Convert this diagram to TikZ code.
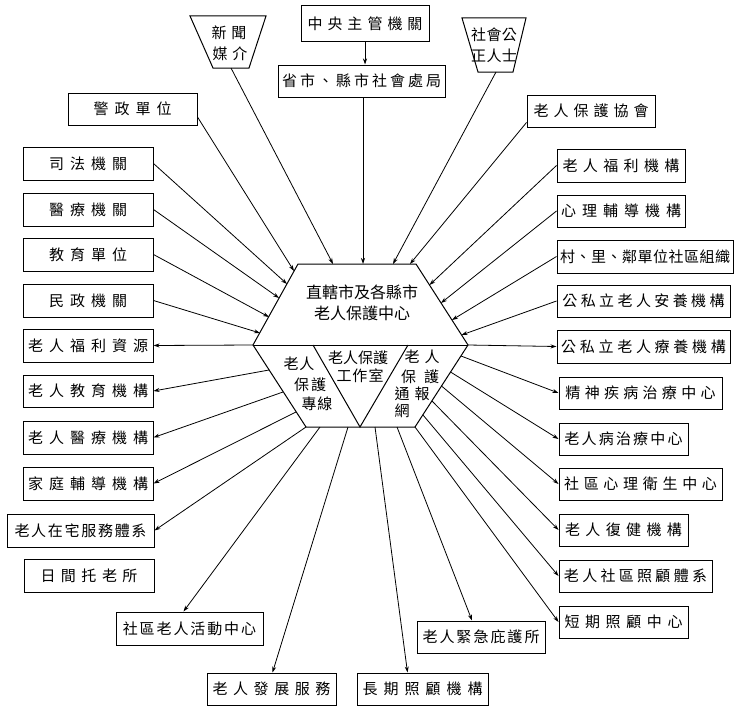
\documentclass[tikz,border=0pt]{standalone}
\usepackage{fontspec}
\setmainfont{Noto Sans CJK TC}
\usetikzlibrary{arrows.meta,calc}
\makeatletter
\newcommand\spaced[2]{\begingroup\def\sp@sep{}\@tfor\sp@c:=#2\do{\sp@sep\sp@c\def\sp@sep{\hspace{#1}}}\endgroup}
\makeatother
\begin{document}
\begin{tikzpicture}[x=1pt,y=-1pt,
  box/.style={draw, line width=1pt, inner sep=0pt, minimum height=33pt, font=\fontsize{15pt}{18pt}\selectfont},
  conn/.style={line width=0.8pt},
  arr/.style={conn,-{Stealth[length=6pt,width=4pt]}},
  lbl/.style={inner sep=0pt, font=\fontsize{15pt}{18pt}\selectfont}]
\useasboundingbox (0,0) rectangle (735,709);

% ---------- top ----------
\node[box, minimum width=128pt, minimum height=36pt] (zy) at (365,24) {\spaced{5pt}{中央主管機關}};
\node[box, minimum width=167pt, minimum height=32pt] (ss) at (361.5,81) {\spaced{3pt}{省市、縣市社會處局}};

% trapezoids
\draw[line width=1pt] (190,16) -- (266,16) -- (249,68) -- (213,68) -- cycle;
\node[lbl] (xinwen) at (229,33) {\spaced{5pt}{新聞}};
\node[lbl] (meijie) at (230,54) {\spaced{5pt}{媒介}};
\coordinate (xwB) at (231,68);

\draw[line width=1pt] (462,18) -- (526,18) -- (513,72) -- (478,72) -- cycle;
\node[lbl] (shehui1) at (494,35) {\spaced{0.5pt}{社會公}};
\node[lbl] (shehui2) at (494,56) {\spaced{0.5pt}{正人士}};
\coordinate (shB) at (496,72);

% ---------- left column ----------
\node[box, minimum width=129pt, minimum height=32pt] (jz) at (132.5,109) {\spaced{6pt}{警政單位}};
\node[box, minimum width=130pt] (sifa) at (88,163.5) {\spaced{6pt}{司法機關}};
\node[box, minimum width=130pt] (yiliao) at (88,209.5) {\spaced{6pt}{醫療機關}};
\node[box, minimum width=130pt] (jiaoyu) at (88,254.5) {\spaced{6pt}{教育單位}};
\node[box, minimum width=130pt] (minzheng) at (88,300.5) {\spaced{6pt}{民政機關}};
\node[box, minimum width=130pt] (ziyuan) at (88,345.5) {\spaced{6pt}{老人福利資源}};
\node[box, minimum width=130pt, minimum height=32pt] (laojiao) at (88,391) {\spaced{6pt}{老人教育機構}};
\node[box, minimum width=130pt] (laoyi) at (88,437.5) {\spaced{6pt}{老人醫療機構}};
\node[box, minimum width=130pt] (jiating) at (88,483.5) {\spaced{6pt}{家庭輔導機構}};
\node[box, minimum width=147pt] (zaizhai) at (80.5,530.5) {\spaced{1.7pt}{老人在宅服務體系}};
\node[box, minimum width=130pt] (rijian) at (89,575.5) {\spaced{5.5pt}{日間托老所}};

% ---------- right column ----------
\node[box, minimum width=128pt, minimum height=32pt] (xiehui) at (591,111) {\spaced{5pt}{老人保護協會}};
\node[box, minimum width=128pt] (fuli) at (621,165.5) {\spaced{5.4pt}{老人福利機構}};
\node[box, minimum width=128pt, minimum height=32pt] (xinli) at (621,211) {\spaced{6pt}{心理輔導機構}};
\node[box, minimum width=176pt] (cunli) at (645,256.5) {\spaced{0.5pt}{村、里、鄰單位社區組織}};
\node[box, minimum width=173pt, minimum height=32pt] (anyang) at (643.5,301) {\spaced{3.4pt}{公私立老人安養機構}};
\node[box, minimum width=173pt] (liaoyang) at (643.5,346.5) {\spaced{3.7pt}{公私立老人療養機構}};
\node[box, minimum width=163pt, minimum height=32pt] (jingshen) at (640.5,393) {\spaced{4.3pt}{精神疾病治療中心}};
\node[box, minimum width=129pt, minimum height=32pt] (laobing) at (623.5,439) {\spaced{2.2pt}{老人病治療中心}};
\node[box, minimum width=163pt, minimum height=32pt] (sqxinli) at (640.5,484) {\spaced{4.7pt}{社區心理衛生中心}};
\node[box, minimum width=129pt, minimum height=32pt] (fujian) at (623.5,530) {\spaced{5.4pt}{老人復健機構}};
\node[box, minimum width=153pt, minimum height=32pt] (zhaogu) at (635.5,576) {\spaced{3.3pt}{老人社區照顧體系}};
\node[box, minimum width=129pt, minimum height=32pt] (duanqi) at (623.5,622) {\spaced{5.6pt}{短期照顧中心}};

% ---------- bottom ----------
\node[box, minimum width=147pt] (huodong) at (189.5,628.5) {\spaced{1.9pt}{社區老人活動中心}};
\node[box, minimum width=129pt, minimum height=32pt] (fazhan) at (271.5,689) {\spaced{5.6pt}{老人發展服務}};
\node[box, minimum width=131pt, minimum height=32pt] (changqi) at (422.5,689) {\spaced{6pt}{長期照顧機構}};
\node[box, minimum width=128pt, minimum height=32pt] (jinji) at (481,637) {\spaced{2pt}{老人緊急庇護所}};

% ---------- central hexagon ----------
\coordinate (hTL) at (298,264);
\coordinate (hTR) at (416,264);
\coordinate (pR) at (468,345);
\coordinate (hBR) at (415,427);
\coordinate (hBL) at (306,427);
\coordinate (pL) at (253,345);
\coordinate (hBM) at (360,427);
\draw[line width=1pt] (hTL) -- (hTR) -- (pR) -- (hBR) -- (hBL) -- (pL) -- cycle;
\draw[line width=1pt] (pL) -- (pR);
\draw[line width=1pt] (313,345) -- (hBM) -- (408,345);

\node[lbl, font=\fontsize{16pt}{19pt}\selectfont] (c1) at (362,292) {直轄市及各縣市};
\node[lbl, font=\fontsize{16pt}{19pt}\selectfont] (c2) at (362,313) {老人保護中心};
\node[lbl] (l1) at (299,364) {\spaced{1pt}{老人}};
\node[lbl] (l2) at (310,385) {\spaced{2pt}{保護}};
\node[lbl] (l3) at (317,404) {\spaced{1pt}{專線}};
\node[lbl] (m1) at (358,358) {老人保護};
\node[lbl] (m2) at (360,376) {\spaced{1pt}{工作室}};
\node[lbl] (r1) at (422,357) {\spaced{5pt}{老人}};
\node[lbl] (r2) at (420,377) {\spaced{8pt}{保護}};
\node[lbl] (r3) at (412,394) {\spaced{5pt}{通報}};
\node[lbl] (r4) at (402,411) {網};

% attachment points on the hexagon
\coordinate (pXinwen) at (333,264);
\coordinate (pShengshi) at (363,264);
\coordinate (pShehui) at (393,264);
\coordinate (pXiehui) at (410,264);
\coordinate (pJing) at (294,271);
\coordinate (pSifa) at (287,284);
\coordinate (pYiliao) at (279,298);
\coordinate (pJiaoyu) at (269,317);
\coordinate (pMinzheng) at (260,333);
\coordinate (pFuli) at (429.5,285);
\coordinate (pXinli) at (441,303);
\coordinate (pCunli) at (452,320);
\coordinate (pAnyang) at (461.5,335);
\coordinate (pJingshen) at (461,356);
\coordinate (pLaobing) at (450.5,372);
\coordinate (pSqxinli) at (441.5,386);
\coordinate (pFujian) at (432,401);
\coordinate (pZhaogu) at (423,415);
\coordinate (pLaojiao) at (269,370);
\coordinate (pLaoyi) at (283,392);
\coordinate (pJiating) at (296,412);
\coordinate (pHuodong) at (320,427);
\coordinate (pFazhan) at (348,427);
\coordinate (pChangqi) at (375,427);
\coordinate (pJinji) at (397,427);

% ---------- connectors ----------
\draw[arr] (zy.south) -- (zy.south |- ss.north);
\draw[arr] (ss.south -| pShengshi) -- (pShengshi);
\draw[arr] (xwB) -- (pXinwen);
\draw[arr] (shB) -- (pShehui);
\draw[arr] ([yshift=5pt]xiehui.south west) -- (pXiehui);
\draw[arr] ([yshift=-8pt]jz.east) -- (pJing);
\draw[arr] (sifa.east) -- (pSifa);
\draw[arr] (yiliao.east) -- (pYiliao);
\draw[arr] (jiaoyu.east) -- (pJiaoyu);
\draw[arr] (minzheng.east) -- (pMinzheng);
\draw[arr] (fuli.west) -- (pFuli);
\draw[arr] (xinli.west) -- (pXinli);
\draw[arr] (cunli.west) -- (pCunli);
\draw[arr] (anyang.west) -- (pAnyang);

\draw[arr] (pL) -- (ziyuan.east);
\draw[arr] (pR) -- (liaoyang.west);

\draw[arr] (pLaojiao) -- (laojiao.east);
\draw[arr] (pLaoyi) -- (laoyi.east);
\draw[arr] (pJiating) -- (jiating.east);
\draw[arr] (hBL) -- (zaizhai.east);

\draw[arr] (pHuodong) -- ([xshift=-6pt]huodong.north);
\draw[arr] (pFazhan) -- ([xshift=1pt]fazhan.north);
\draw[arr] (pChangqi) -- ([xshift=-15pt]changqi.north);
\draw[arr] (pJinji) -- ([xshift=-9pt]jinji.north);
\draw[arr] (hBR) -- (duanqi.west);

\draw[arr] (pJingshen) -- (jingshen.west);
\draw[arr] (pLaobing) -- (laobing.west);
\draw[arr] (pSqxinli) -- (sqxinli.west);
\draw[arr] (pFujian) -- (fujian.west);
\draw[arr] (pZhaogu) -- (zhaogu.west);
\end{tikzpicture}
\end{document}
